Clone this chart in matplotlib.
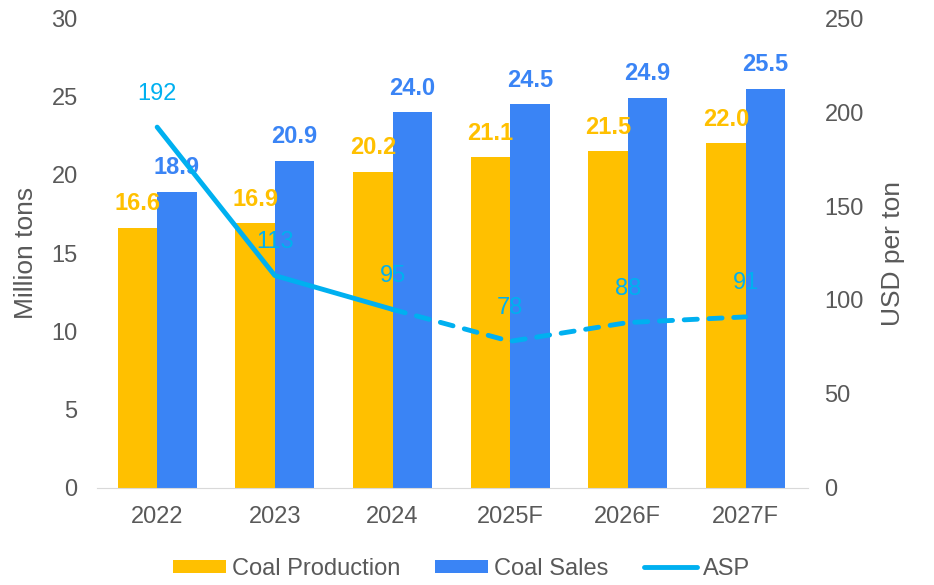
import matplotlib

matplotlib.use("Agg")
import matplotlib.pyplot as plt
import numpy as np

plt.rcParams["font.family"] = ["Liberation Sans", "DejaVu Sans"]

years = ["2022", "2023", "2024", "2025F", "2026F", "2027F"]
production = [16.6, 16.9, 20.2, 21.1, 21.5, 22.0]
sales = [18.9, 20.9, 24.0, 24.5, 24.9, 25.5]
asp = [192, 113, 95, 78, 88, 91]
n_actual = 3  # 2022-2024 actual (solid), forecast dashed from 2024 onward

YELLOW = "#FFC000"
BLUE = "#3A84F5"
CYAN = "#00B0F0"
GREY = "#595959"

fig = plt.figure(figsize=(9.34, 5.85), dpi=100)
ax = fig.add_axes([0.104, 0.166, 0.761, 0.803])
ax2 = ax.twinx()

x = np.arange(len(years))
w = 0.335
b1 = ax.bar(x - w / 2, production, w, color=YELLOW, label="Coal Production")
b2 = ax.bar(x + w / 2, sales, w, color=BLUE, label="Coal Sales")

for xi, v in zip(x, production):
    ax.text(xi - w / 2, v + 0.8, f"{v:.1f}", ha="center", va="bottom",
            color=YELLOW, fontsize=17, fontweight="bold")
for xi, v in zip(x, sales):
    ax.text(xi + w / 2, v + 0.8, f"{v:.1f}", ha="center", va="bottom",
            color=BLUE, fontsize=17, fontweight="bold")

ax2.plot(x[:n_actual], asp[:n_actual], color=CYAN, lw=3.5,
         solid_capstyle="round", label="ASP")
ax2.plot(x[n_actual - 1:], asp[n_actual - 1:], color=CYAN, lw=3.5,
         linestyle=(0, (2.7, 2.4)), dash_capstyle="round")
for xi, v in zip(x, asp):
    ax2.text(xi, v + 12, f"{v}", ha="center", va="bottom", color=CYAN,
             fontsize=17)

ax.set_xlim(-0.51, 5.53)
ax.set_ylim(0, 30)
ax2.set_ylim(0, 250)
ax.set_xticks(x)
ax.set_xticklabels(years)
ax.set_yticks(range(0, 31, 5))
ax2.set_yticks(range(0, 251, 50))

for a in (ax, ax2):
    for s in ("left", "right", "top"):
        a.spines[s].set_visible(False)
    a.tick_params(colors=GREY, labelsize=17, length=0)
ax.tick_params(axis="y", pad=14)
ax.tick_params(axis="x", pad=13)
ax2.tick_params(axis="y", pad=12)
ax.spines["bottom"].set_color("#D9D9D9")
ax2.spines["bottom"].set_visible(False)

ax.set_ylabel("Million tons", color=GREY, fontsize=19, labelpad=10)
ax2.set_ylabel("USD per ton", color=GREY, fontsize=19, rotation=90,
               labelpad=12)

handles = [b1, b2, ax2.lines[0]]
fig.legend(handles, [h.get_label() for h in handles], loc="center",
           bbox_to_anchor=(0.494, 0.028), ncol=3, frameon=False, fontsize=17,
           labelcolor=GREY, handlelength=2.25, handleheight=0.5,
           columnspacing=1.5, handletextpad=0.25)

fig.savefig("out.png", dpi=100)
